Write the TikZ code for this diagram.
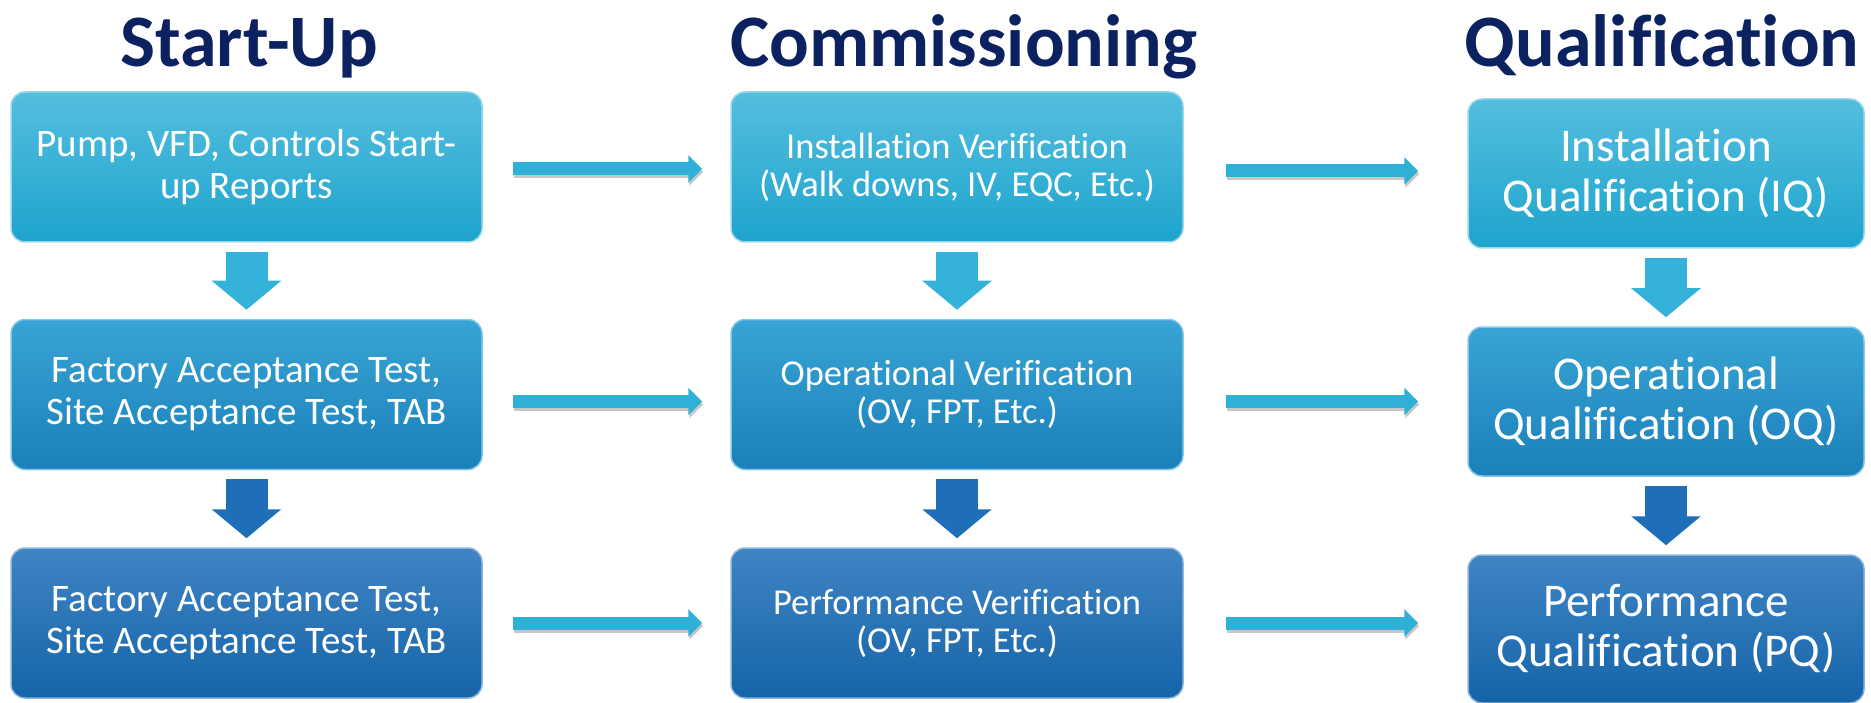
\documentclass[tikz,border=0pt]{standalone}
\usepackage{fontspec}
\setmainfont{Carlito}[Ligatures=NoCommon]
\usetikzlibrary{arrows.meta}
\definecolor{titlecol}{RGB}{12,34,96}
\definecolor{rowAtop}{RGB}{84,190,222}
\definecolor{rowAbot}{RGB}{30,164,205}
\definecolor{rowBtop}{RGB}{56,164,212}
\definecolor{rowBbot}{RGB}{26,128,186}
\definecolor{rowCtop}{RGB}{64,132,196}
\definecolor{rowCbot}{RGB}{20,100,168}
\definecolor{harrowcol}{RGB}{47,176,214}
\definecolor{varrowA}{RGB}{52,178,218}
\definecolor{varrowB}{RGB}{30,110,184}
\tikzset{
  titletext/.style={text=titlecol, font=\fontsize{74}{80}\selectfont\bfseries, anchor=base},
  box/.style={rectangle, rounded corners=14pt, align=center, text=white, inner sep=0pt},
  rowA/.style={box, top color=rowAtop, bottom color=rowAbot, draw=rowAtop!60!white, line width=1.5pt},
  rowB/.style={box, top color=rowBtop, bottom color=rowBbot, draw=rowBtop!60!white, line width=1.5pt},
  rowC/.style={box, top color=rowCtop, bottom color=rowCbot, draw=rowCtop!60!white, line width=1.5pt},
  colone/.style={minimum width=471pt, minimum height=150pt, font=\fontsize{39}{42}\selectfont},
  coltwo/.style={minimum width=452pt, minimum height=150pt, font=\fontsize{36.5}{38}\selectfont},
  colthree/.style={minimum width=396pt, minimum height=149pt, font=\fontsize{47}{50}\selectfont},
  harrowbase/.style={line width=13pt, -{Triangle[width=27pt,length=14pt]}},
  harrow/.style={harrowbase, draw=harrowcol,
    preaction={harrowbase, draw=black!22, transform canvas={shift={(1pt,-3pt)}}}},
  varrow/.style={line width=42pt, -{Triangle[width=68pt,length=29pt]}, shorten <=9pt, shorten >=9pt},
}
\begin{document}
\begin{tikzpicture}[x=1pt,y=-1pt]
\useasboundingbox (0,0) rectangle (1871,703);
% titles
\node[titletext] (t1) at (249,67) {Start-Up};
\node[titletext] (t2) at (964,67) {Commissioning};
\node[titletext] (t3) at (1662,67) {Qualification};
% column 1
\node[rowA, colone] (a1) at (246.5,167) {Pump, VFD, Controls Start-\\up Reports};
\node[rowB, colone] (a2) at (246.5,394.5) {Factory Acceptance Test,\\Site Acceptance Test, TAB};
\node[rowC, colone] (a3) at (246.5,623) {Factory Acceptance Test,\\Site Acceptance Test, TAB};
% column 2
\node[rowA, coltwo] (b1) at (957,167) {Installation Verification\\(Walk downs, IV, EQC, Etc.)};
\node[rowB, coltwo] (b2) at (957,394.5) {Operational Verification\\(OV, FPT, Etc.)};
\node[rowC, coltwo] (b3) at (957,623) {Performance Verification\\(OV, FPT, Etc.)};
% column 3
\node[rowA, colthree] (c1) at (1666,173.5) {Installation\\Qualification (IQ)};
\node[rowB, colthree] (c2) at (1666,401.5) {Operational\\Qualification (OQ)};
\node[rowC, colthree, minimum height=148pt] (c3) at (1666,629) {Performance\\Qualification (PQ)};
% vertical arrows
\draw[varrow, draw=varrowA] (a1) -- (a2);
\draw[varrow, draw=varrowB] (a2) -- (a3);
\draw[varrow, draw=varrowA] (b1) -- (b2);
\draw[varrow, draw=varrowB] (b2) -- (b3);
\draw[varrow, draw=varrowA] (c1) -- (c2);
\draw[varrow, draw=varrowB] (c2) -- (c3);
% horizontal arrows
\draw[harrow, shorten <=30pt, shorten >=28pt] ([yshift=-2pt]a1.east) -- ([yshift=-2pt]a1.east -| b1.west);
\draw[harrow, shorten <=42pt, shorten >=49pt] ([yshift=-4pt]b1.east) -- ([yshift=-4pt]b1.east -| c1.west);
\draw[harrow, shorten <=30pt, shorten >=28pt] ([yshift=-7pt]a2.east) -- ([yshift=-7pt]a2.east -| b2.west);
\draw[harrow, shorten <=42pt, shorten >=49pt] ([yshift=-7pt]b2.east) -- ([yshift=-7pt]b2.east -| c2.west);
\draw[harrow, shorten <=30pt, shorten >=28pt] (a3.east) -- (a3.east -| b3.west);
\draw[harrow, shorten <=42pt, shorten >=49pt] (b3.east) -- (b3.east -| c3.west);
\end{tikzpicture}
\end{document}
